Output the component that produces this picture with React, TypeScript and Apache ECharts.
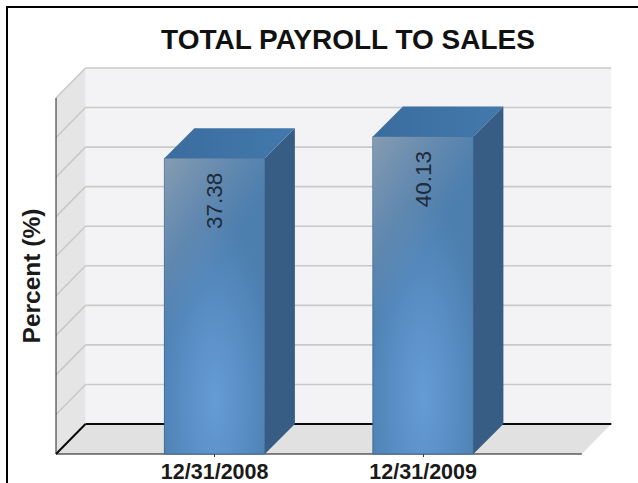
import React, { useEffect, useRef } from "react";
import * as echarts from "echarts";

const categories = ["12/31/2008", "12/31/2009"];
const payrollPercent = [37.38, 40.13];
const gridValues = [0, 5, 10, 15, 20, 25, 30, 35, 40, 45];

const DEPTH_X = 29.5;
const DEPTH_Y = 30;
const GRID_LEFT = 110.4;
const GRID_WIDTH = 417;
const WALL_OVERHANG = 54.4;
const BAR_RATIO = 0.482;
const LABEL_FONT = "22.5px 'Liberation Sans', Arial, sans-serif";

// Floor and side/back walls of the 3D box, spanning the whole y range.
function renderWalls(params: any, api: any) {
  const sys = params.coordSys;
  const x0 = sys.x - WALL_OVERHANG;
  const x1 = sys.x + sys.width + WALL_OVERHANG;
  const yTop = api.coord([0, 45])[1];
  const yBase = api.coord([0, 0])[1];
  const dx = DEPTH_X;
  const dy = DEPTH_Y;
  const poly = (points: number[][], fill: any) => ({
    type: "polygon",
    shape: { points },
    style: { fill, stroke: "none" },
  });
  return {
    type: "group",
    children: [
      poly([[x0 + dx, yTop - dy], [x1 + dx, yTop - dy], [x1 + dx, yBase - dy], [x0 + dx, yBase - dy]], "#f3f3f5"),
      poly([[x0, yTop], [x0 + dx, yTop - dy], [x0 + dx, yBase - dy], [x0, yBase]], "#e5e5e5"),
      poly([[x0, yBase], [x0 + dx, yBase - dy], [x1 + dx, yBase - dy], [x1, yBase]], "#e1e1e1"),
    ],
  };
}

// One grid line per value: a diagonal on the side wall and a run along the back wall.
function renderGridLine(params: any, api: any) {
  const sys = params.coordSys;
  const x0 = sys.x - WALL_OVERHANG;
  const x1 = sys.x + sys.width + WALL_OVERHANG;
  const y = api.coord([0, api.value(1)])[1];
  const isBase = api.value(1) === 0;
  const stroke = isBase ? "#0a0a0a" : "#c9c9c9";
  const lineWidth = isBase ? 2 : 1.6;
  return {
    type: "group",
    children: [
      {
        type: "line",
        shape: { x1: x0, y1: y, x2: x0 + DEPTH_X, y2: y - DEPTH_Y },
        style: { stroke, lineWidth },
      },
      {
        type: "line",
        shape: { x1: x0 + DEPTH_X, y1: y - DEPTH_Y, x2: x1 + DEPTH_X, y2: y - DEPTH_Y },
        style: { stroke, lineWidth },
      },
    ],
  };
}

// Front axis lines, painted after the walls and before the bars.
function renderAxes(params: any, api: any) {
  const sys = params.coordSys;
  const x0 = sys.x - WALL_OVERHANG;
  const x1 = sys.x + sys.width + WALL_OVERHANG;
  const yTop = api.coord([0, 45])[1];
  const yBase = api.coord([0, 0])[1];
  return {
    type: "group",
    children: [
      { type: "line", shape: { x1: x0, y1: yTop, x2: x0, y2: yBase }, style: { stroke: "#222", lineWidth: 1 } },
      { type: "line", shape: { x1: x0, y1: yBase, x2: x1, y2: yBase }, style: { stroke: "#111", lineWidth: 1.2 } },
    ],
  };
}

// A bar as three faces: shaded front, lit top, dark side, plus its rotated value.
function renderBar(params: any, api: any) {
  const value = api.value(1);
  const [cx, yTop] = api.coord([api.value(0), value]);
  const yBase = api.coord([api.value(0), 0])[1];
  const w = api.size([1, 0])[0] * BAR_RATIO;
  const xl = cx - w / 2;
  const xr = cx + w / 2;
  const dx = DEPTH_X + 0.5;
  const dy = DEPTH_Y;
  return {
    type: "group",
    children: [
      {
        type: "rect",
        shape: { x: xl, y: yTop, width: w, height: yBase - yTop },
        style: {
          fill: {
            type: "radial",
            x: 0.5,
            y: 0.82,
            r: 0.62,
            colorStops: [
              { offset: 0, color: "#659cd5" },
              { offset: 0.45, color: "#5a8fc6" },
              { offset: 1, color: "#4c7eae" },
            ],
          },
          stroke: "#3e6c99",
          lineWidth: 1,
        },
      },
      {
        // Grey sheen fading from the top-left corner down the face.
        type: "rect",
        shape: { x: xl, y: yTop, width: w, height: yBase - yTop },
        style: {
          fill: {
            type: "linear",
            x: 0,
            y: 0,
            x2: 0.25,
            y2: 0.5,
            colorStops: [
              { offset: 0, color: "rgba(170,175,180,0.62)" },
              { offset: 1, color: "rgba(150,160,175,0)" },
            ],
          },
          stroke: "none",
        },
      },
      {
        type: "polygon",
        shape: { points: [[xl, yTop], [xl + dx, yTop - dy], [xr + dx, yTop - dy], [xr, yTop]] },
        style: {
          fill: {
            type: "linear",
            x: 0,
            y: 0,
            x2: 1,
            y2: 0,
            colorStops: [
              { offset: 0, color: "#3b6c9e" },
              { offset: 1, color: "#4379ad" },
            ],
          },
          stroke: "none",
        },
      },
      {
        type: "polygon",
        shape: { points: [[xr, yTop], [xr + dx, yTop - dy], [xr + dx, yBase - dy], [xr, yBase]] },
        style: { fill: "#385d85", stroke: "none" },
      },
      {
        type: "text",
        x: cx,
        y: yTop + 42.5,
        rotation: Math.PI / 2,
        style: {
          text: value.toFixed(2),
          font: LABEL_FONT,
          fill: "#1d2b3a",
          align: "center",
          verticalAlign: "middle",
        },
      },
    ],
  };
}

export default function App() {
  const ref = useRef<HTMLDivElement>(null);

  useEffect(() => {
    const chart = echarts.init(ref.current!, undefined, { renderer: "svg" });
    const xIndexed = gridValues.map((v) => [0, v]);
    const bars = payrollPercent.map((v, i) => [i, v]);
    chart.setOption({
      animation: false,
      backgroundColor: "#ffffff",
      title: {
        text: "TOTAL PAYROLL TO SALES",
        left: 343,
        top: 20,
        textAlign: "center",
        textStyle: {
          fontFamily: "'Liberation Sans', Arial, sans-serif",
          fontSize: 28,
          fontWeight: "bold",
          color: "#111111",
        },
      },
      grid: { left: GRID_LEFT, width: GRID_WIDTH, top: 98, height: 357 },
      xAxis: {
        type: "category",
        data: categories,
        axisLine: { show: false },
        axisTick: { show: true, alignWithLabel: true, length: 3, lineStyle: { color: "#333" } },
        axisLabel: {
          margin: 7,
          fontFamily: "'Liberation Sans', Arial, sans-serif",
          fontSize: 21.5,
          fontWeight: "bold",
          color: "#1a1a1a",
        },
      },
      yAxis: {
        type: "value",
        min: 0,
        max: 45,
        interval: 5,
        axisLine: { show: false },
        axisTick: { show: false },
        axisLabel: { show: false },
        splitLine: { show: false },
        name: "Percent (%)",
        nameLocation: "middle",
        nameGap: 66,
        nameRotate: 90,
        nameTextStyle: {
          fontFamily: "'Liberation Sans', Arial, sans-serif",
          fontSize: 24.5,
          fontWeight: "bold",
          color: "#1a1a1a",
        },
      },
      graphic: [
        { type: "rect", shape: { x: 6, y: 6, width: 2, height: 477 }, style: { fill: "#000" } },
        { type: "rect", shape: { x: 6, y: 6, width: 632, height: 2 }, style: { fill: "#000" } },
      ],
      series: [
        { type: "custom", silent: true, z: 1, renderItem: renderWalls, data: [[0, 45]] },
        { type: "custom", silent: true, z: 2, renderItem: renderGridLine, data: xIndexed },
        { type: "custom", silent: true, z: 3, renderItem: renderAxes, data: [[0, 0]] },
        { type: "custom", silent: true, z: 4, renderItem: renderBar, data: bars },
      ],
    });
    return () => chart.dispose();
  }, []);

  return (
    <div
      ref={ref}
      style={{ position: "absolute", left: 0, top: 0, width: 638, height: 483 }}
    />
  );
}
